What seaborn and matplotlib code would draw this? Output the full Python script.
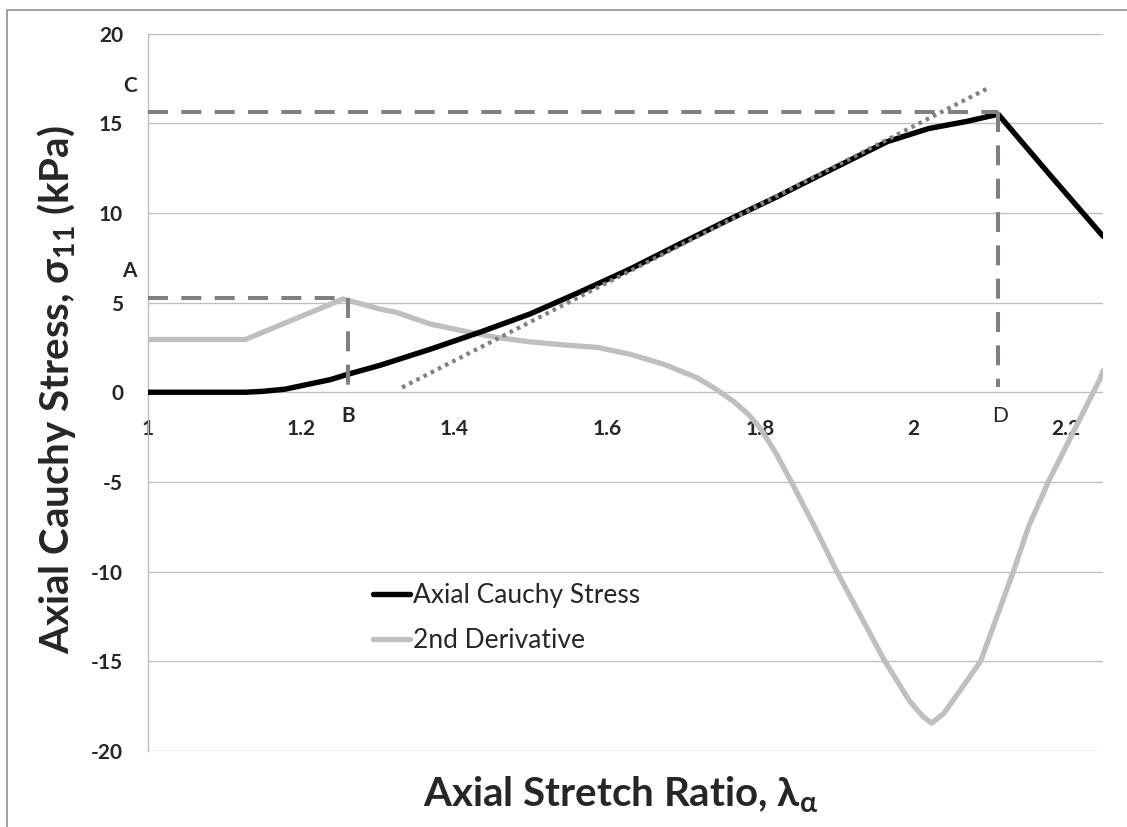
import matplotlib
matplotlib.use("Agg")
import matplotlib.pyplot as plt
import seaborn as sns
import pandas as pd
from matplotlib.patches import Rectangle

# stress curve
stretch_stress = [1.0, 1.127, 1.15, 1.179, 1.238, 1.261, 1.303, 1.369, 1.434, 1.499, 1.565,
                  1.630, 1.695, 1.761, 1.822, 1.852, 1.966, 2.02, 2.07, 2.111, 2.179, 2.248]
stress = [0.0, 0.0, 0.05, 0.17, 0.7, 1.0, 1.5, 2.4, 3.35, 4.36, 5.6,
          6.87, 8.27, 9.66, 10.9, 11.55, 13.97, 14.7, 15.1, 15.5, 12.1, 8.7]

# 2nd derivative curve
stretch_deriv = [1.0, 1.127, 1.255, 1.303, 1.325, 1.369, 1.412, 1.456, 1.499, 1.543, 1.587,
                 1.630, 1.674, 1.717, 1.739, 1.765, 1.785, 1.80, 1.82, 1.839, 1.87, 1.90,
                 1.963, 1.995, 2.012, 2.024, 2.04, 2.06, 2.088, 2.131, 2.151, 2.177, 2.244, 2.248]
deriv = [2.94, 2.94, 5.2, 4.64, 4.45, 3.80, 3.42, 3.05, 2.81, 2.64, 2.50,
         2.12, 1.56, 0.82, 0.26, -0.5, -1.25, -2.0, -3.35, -4.86, -7.4, -9.98,
         -15.0, -17.2, -18.05, -18.45, -17.9, -16.7, -15.0, -9.98, -7.47, -4.95, 0.73, 1.2]

# tangent line (dotted)
tangent_x = [1.332, 2.10]
tangent_y = [0.27, 17.0]

# marker points A/B and C/D
pt_ab = (1.261, 5.28)
pt_cd = (2.111, 15.63)

x_ticks = [1, 1.2, 1.4, 1.6, 1.8, 2, 2.2]
x_tick_labels = ["1", "1.2", "1.4", "1.6", "1.8", "2", "2.2"]
y_ticks = [-20, -15, -10, -5, 0, 5, 10, 15, 20]
y_tick_labels = ["-20", "-15", "-10", "-5", "0", "5", "10", "15", "20"]

sns.set_style("white")
plt.rcParams['font.family'] = ['Lato', 'DejaVu Sans']
plt.rcParams['mathtext.fontset'] = 'custom'
plt.rcParams['mathtext.rm'] = 'Lato'
plt.rcParams['mathtext.bf'] = 'Lato:bold'
plt.rcParams['lines.scale_dashes'] = False
plt.rcParams['axes.unicode_minus'] = False

W, H = 1127, 827
fig = plt.figure(figsize=[W / 100, H / 100], dpi=100)
ax = fig.add_axes([148 / W, 1 - 751 / H, (1103 - 148) / W, (751 - 33.5) / H])

df_s = pd.DataFrame({"x": stretch_stress, "y": stress})
df_d = pd.DataFrame({"x": stretch_deriv, "y": deriv})

sns.lineplot(data=df_d, x="x", y="y", ax=ax, color="#bfbfbf", linewidth=3.8,
             label="2nd Derivative", sort=False, zorder=3)
sns.lineplot(data=df_s, x="x", y="y", ax=ax, color="black", linewidth=3.9,
             label="Axial Cauchy Stress", sort=False, zorder=4)

dash_col = "#808080"
ax.plot(tangent_x, tangent_y, color=dash_col, linewidth=3, dashes=(2.6, 3.2),
        dash_capstyle="butt", zorder=5)
for (px, py) in [pt_ab, pt_cd]:
    ax.plot([1.0, px], [py, py], color=dash_col, linewidth=2.9, dashes=(14.4, 9.6),
            zorder=5, clip_on=False)
    ax.plot([px, px], [py, 0.3], color=dash_col, linewidth=2.9, dashes=(14.4, 9.6),
            zorder=5)

ax.set_xlim(1.0, 2.248)
ax.set_ylim(-20, 20)
ax.grid(axis="y", color="#c0c0c0", linewidth=1.0)
ax.grid(axis="x", visible=False)
for s in ["top", "right"]:
    ax.spines[s].set_visible(False)
ax.spines["left"].set_color("#c0c0c0")
ax.spines["left"].set_linewidth(1.0)
ax.spines["bottom"].set_position(("data", 0))
ax.spines["bottom"].set_visible(False)
ax.tick_params(axis="x", length=0, pad=19, labelsize=15)
ax.tick_params(axis="y", length=0, pad=18, labelsize=15)
ax.set_xticks(x_ticks)
ax.set_xticklabels(x_tick_labels, fontweight="bold", fontsize=15)
ax.set_yticks(y_ticks)
ax.set_yticklabels(y_tick_labels, fontweight="bold", fontsize=15)
ax.set_xlabel("")
ax.set_ylabel("")

# point labels
ax.text(0.976, 6.76, "A", fontsize=15, fontweight="bold", ha="center", va="center", clip_on=False)
ax.text(0.976, 17.1, "C", fontsize=15, fontweight="bold", ha="center", va="center", clip_on=False)
ax.text(1.261, -1.34, "B", fontsize=15, fontweight="bold", ha="center", va="center")
ax.text(2.114, -1.34, "D", fontsize=15, ha="center", va="center")

# legend (order as in reference)
handles, labels = ax.get_legend_handles_labels()
order = [labels.index("Axial Cauchy Stress"), labels.index("2nd Derivative")]
ax.legend([handles[i] for i in order], [labels[i] for i in order],
          loc="center left", bbox_to_anchor=(373 / W, 1 - 618 / H),
          bbox_transform=fig.transFigure, frameon=False, fontsize=19,
          handlelength=1.4, handletextpad=0.1, labelspacing=0.75,
          borderpad=0, borderaxespad=0)

fig.text(621 / W, 1 - 795 / H, r"Axial Stretch Ratio, λ$_{\mathbf{\alpha}}$",
         fontsize=29, fontweight="bold", ha="center", va="center")
fig.text(57 / W, 1 - 390 / H, r"Axial Cauchy Stress, σ$_{\mathbf{11}}$ (kPa)",
         fontsize=29, fontweight="bold", ha="center", va="center", rotation=90)

# outer chart border
fig.patches.append(Rectangle((7 / W, -0.05), 1.2, 1 - 10 / H + 0.05, transform=fig.transFigure,
                             fill=False, edgecolor="#909090", linewidth=1.2))

fig.savefig("out.png", dpi=100)
